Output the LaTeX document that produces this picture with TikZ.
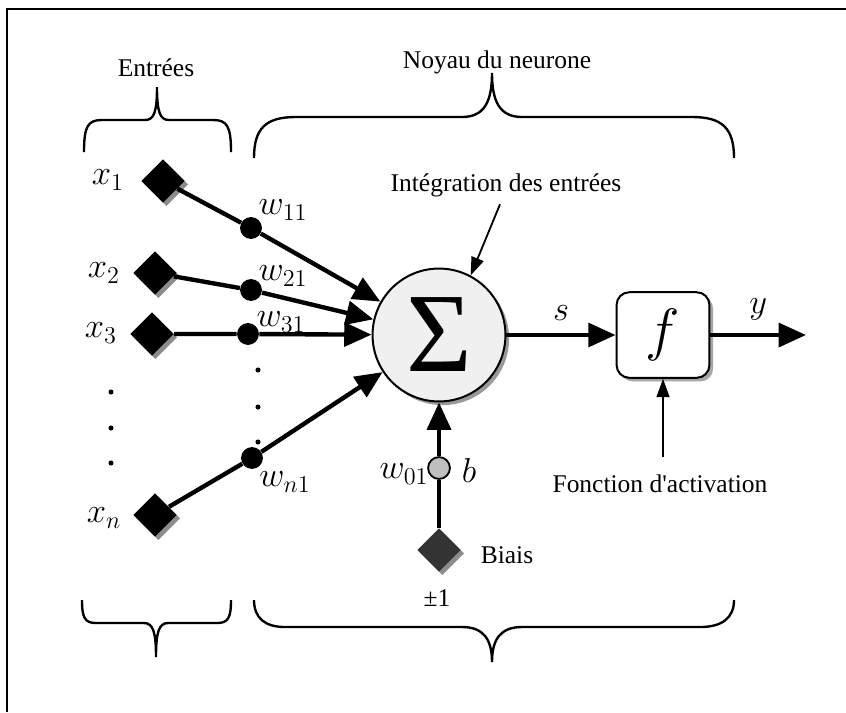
\documentclass[tikz,border=0pt,12pt]{standalone}
\usepackage{fix-cm}
\usepackage{fontspec}
\setmainfont{Liberation Serif}
\usetikzlibrary{arrows.meta,shapes.geometric,shadows}
% lettre italique avec indice
\newcommand{\wt}[2]{{\fontsize{19}{21}\selectfont$#1_{#2}$}}
\tikzset{
  entree/.style={diamond,fill=black,inner sep=0pt,minimum size=24pt,
    drop shadow={shadow xshift=1.8pt,shadow yshift=-1.8pt,fill=black!45,opacity=1}},
  poids/.style={circle,fill=black,inner sep=0pt,minimum size=12pt},
  somme/.style={circle,draw,line width=1.1pt,fill=black!6,inner sep=0pt,minimum size=73pt,
    drop shadow={shadow xshift=2pt,shadow yshift=-2pt,fill=black!40,opacity=1}},
  activ/.style={draw,rounded corners=7pt,line width=1.1pt,fill=white,minimum width=51pt,minimum height=47pt,
    drop shadow={shadow xshift=2pt,shadow yshift=-2pt,fill=black!35,opacity=1}},
  conn/.style={line width=2.4pt,-{Triangle[length=15pt,width=13pt]}},
  fleche/.style={line width=1pt,-{Triangle[length=10pt,width=7pt]}},
  accolade/.style={line width=1.3pt},
  grand/.style={font=\fontsize{19}{21}\selectfont}
}
\begin{document}
\begin{tikzpicture}[x=0.0193cm,y=-0.0193cm,font=\fontsize{14}{16}\selectfont]
  \useasboundingbox (0,0) rectangle (846,712);
  % cadre
  \draw[line width=1.6pt] (7,712) -- (7,9) -- (846,9);

  % titres et accolades
  \node (tin) at (156,68) {Entrées};
  \node (tnoyau) at (497,62) {Noyau du neurone};
  \draw[accolade] (84,152) .. controls (84,126) and (88,120) .. (102,120) -- (145,120)
    .. controls (154,120) and (157,112) .. (157,87) .. controls (157,112) and (160,120) .. (169,120)
    -- (213,120) .. controls (227,120) and (231,126) .. (231,152);
  \draw[accolade] (254,158) .. controls (254,128) and (266,117) .. (296,117) -- (462,117)
    .. controls (484,117) and (492,102) .. (492,73) .. controls (492,102) and (500,117) .. (522,117)
    -- (692,117) .. controls (722,117) and (734,128) .. (734,158);
  \draw[accolade] (82,600) .. controls (82,618) and (85,623) .. (96,623) -- (144,623)
    .. controls (153,623) and (156,632) .. (156,657) .. controls (156,632) and (159,623) .. (168,623)
    -- (217,623) .. controls (228,623) and (231,618) .. (231,600);
  \draw[accolade] (254,600) .. controls (254,618) and (265,627) .. (285,627) -- (462,627)
    .. controls (484,627) and (492,640) .. (492,662) .. controls (492,640) and (500,627) .. (522,627)
    -- (700,627) .. controls (722,627) and (734,618) .. (734,600);

  % entrees
  \node[entree] (x1) at (163,181) {};
  \node[entree] (x2) at (155,273) {};
  \node[entree] (x3) at (152,334) {};
  \node[entree] (xn) at (155,515) {};
  \node (lx1) at (108,180) {\wt{x}{1}};
  \node (lx2) at (104,273) {\wt{x}{2}};
  \node (lx3) at (101,333) {\wt{x}{3}};
  \node (lxn) at (104,518) {\wt{x}{n}};
  \foreach \y in {392,428,463} \fill (111,\y) circle (1.4pt);

  % poids
  \node[poids] (w1) at (251,228) {};
  \node[poids] (w2) at (251,290) {};
  \node[poids] (w3) at (248,334) {};
  \node[poids] (wn) at (252,458) {};
  \node (lw1) at (283,210) {\wt{w}{11}};
  \node (lw2) at (283,276) {\wt{w}{21}};
  \node (lw3) at (281,322) {\wt{w}{31}};
  \node (lwn) at (285,482) {\wt{w}{n1}};
  \foreach \y in {370,407,442} \fill (258,\y) circle (1.4pt);

  % sommateur
  \node[somme] (sum) at (439,335) {\fontsize{62}{64}\selectfont Σ};
  \draw[conn] (x1) -- (w1) -- (sum);
  \draw[conn] (x2) -- (w2) -- (sum);
  \draw[conn] (x3) -- (w3) -- (sum);
  \draw[conn] (xn) -- (wn) -- (sum);

  % biais
  \node[entree,fill=black!80] (biais) at (439,550) {};
  \node[circle,draw,line width=1pt,fill=black!25,inner sep=0pt,minimum size=12pt] (b0) at (439,468) {};
  \draw[conn] (biais) -- (b0) -- (sum);
  \node (lw0) at (404,474) {\wt{w}{01}};
  \node[grand] (lb) at (469,470) {$b$};
  \node (lbiais) at (507,555) {Biais};
  \node (lpm) at (437,598) {±1};

  % activation
  \node[activ] (f) at (663,335) {\fontsize{32}{34}\selectfont$f$};
  \coordinate (out) at (806,335);
  \draw[conn] (sum) -- (f) node[grand,midway,above=3pt] (ls) {$s$};
  \draw[conn] (f) -- (out) node[grand,midway,above=3pt] (ly) {$y$};

  % legendes
  \node (tinteg) at (506,185) {Intégration des entrées};
  \draw[fleche] (tinteg.south -| 500,0) -- (sum.62);
  \node (tfonc) at (660,484) {Fonction d\textquotesingle activation};
  \draw[fleche] (tfonc.north -| f) ++(0,-10) coordinate (fbas) -- (f.south);
\end{tikzpicture}
\end{document}
